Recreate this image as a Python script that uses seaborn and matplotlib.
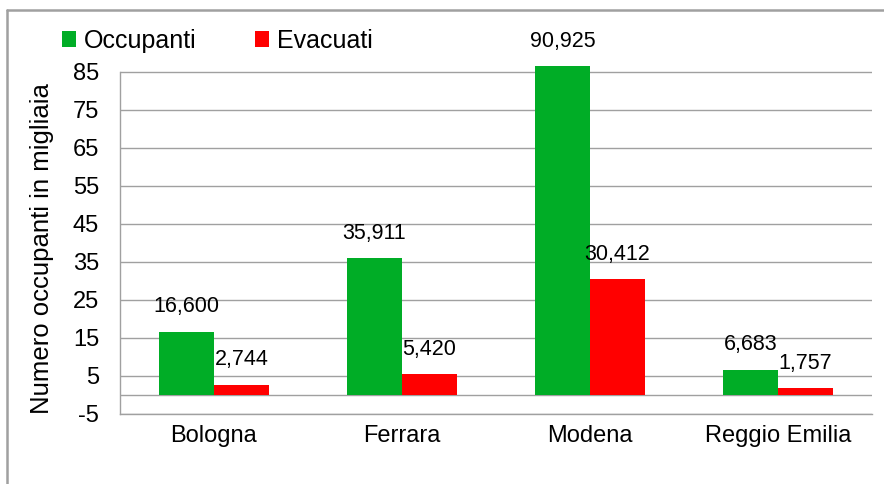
import pandas as pd
import matplotlib.pyplot as plt
from matplotlib.lines import Line2D
import seaborn as sns

# data (numero occupanti / evacuati)
province = ["Bologna", "Ferrara", "Modena", "Reggio Emilia"]
occupanti = [16600, 35911, 90925, 6683]
evacuati = [2744, 5420, 30412, 1757]
series = ["Occupanti", "Evacuati"]
y_ticks = [-5, 5, 15, 25, 35, 45, 55, 65, 75, 85]

df = pd.DataFrame({
    "provincia": province * 2,
    "serie": [series[0]] * 4 + [series[1]] * 4,
    "valore": occupanti + evacuati,
})
df["migliaia"] = df["valore"] / 1000

sns.set_style("white")
plt.rcParams["font.family"] = ["Liberation Sans", "DejaVu Sans"]
plt.rcParams["text.color"] = "black"
plt.rcParams["xtick.color"] = "black"
plt.rcParams["ytick.color"] = "black"

fig = plt.figure(figsize=(8.84, 4.84), dpi=100)
ax = fig.add_axes([120 / 884, 70 / 484, 752 / 884, 348 / 484])

palette = {"Occupanti": "#00AD26", "Evacuati": "#FF0000"}
sns.barplot(data=df, x="provincia", y="migliaia", hue="serie", palette=palette,
            width=0.585, gap=0, saturation=1, linewidth=0, ax=ax, legend=True)

y_top = 86.5
ax.set_ylim(-5, y_top)
ax.set_xlim(-0.5, 3.5)
ax.set_yticks(y_ticks)
ax.set_yticklabels([str(t) for t in y_ticks], fontsize=17)
ax.set_xticks(range(len(province)))
ax.set_xticklabels(province, fontsize=17)
ax.set_xlabel("")
ax.set_ylabel("")
ax.tick_params(axis="y", length=6, width=1, color="#A0A0A0", labelcolor="black",
               pad=9, direction="out")
ax.tick_params(axis="x", length=0, pad=8, labelcolor="black")
ax.yaxis.grid(True, color="#A0A0A0", lw=1)
ax.set_axisbelow(True)
ax.axhline(0, color="#A0A0A0", lw=1, zorder=0.5)
for s in ["top", "right"]:
    ax.spines[s].set_visible(False)
for s in ["left", "bottom"]:
    ax.spines[s].set_color("#A0A0A0")
    ax.spines[s].set_linewidth(1)
ax.spines["left"].set_bounds(-5, 85)

# data labels
for cont in ax.containers:
    for bar in cont:
        h = bar.get_height()
        ax.annotate(f"{int(round(h * 1000)):,}",
                    xy=(bar.get_x() + bar.get_width() / 2, min(h, y_top)),
                    xytext=(0, 18), textcoords="offset points",
                    ha="center", va="center", fontsize=15.5, color="black",
                    annotation_clip=False)

fig.text(42 / 884, 1 - 249 / 484, "Numero occupanti in migliaia", rotation=90,
         ha="center", va="center", fontsize=18.5, color="black")

ax.legend(ncol=2, loc="center left", bbox_to_anchor=(49 / 884, 1 - 41 / 484),
          bbox_transform=fig.transFigure, frameon=False, fontsize=18, borderpad=0,
          handlelength=0.58, handleheight=0.58, handletextpad=0.3, columnspacing=2.35)

# outer chart frame
fig.add_artist(Line2D([7 / 884, 7 / 884], [0, 1 - 10 / 484], color="#A0A0A0", lw=1.8))
fig.add_artist(Line2D([7 / 884, 1], [1 - 10 / 484, 1 - 10 / 484], color="#A0A0A0", lw=1.8))

fig.savefig("out.png", dpi=100)
